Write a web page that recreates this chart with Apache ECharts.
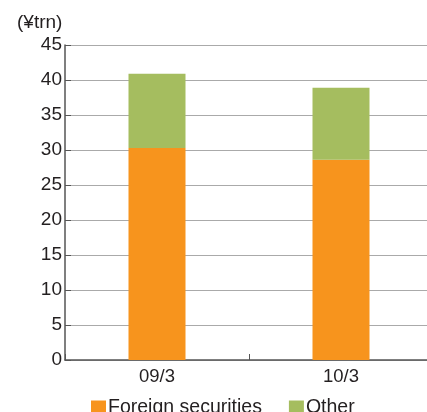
<!DOCTYPE html>
<html>
<head>
<meta charset="utf-8">
<script src="https://cdn.jsdelivr.net/npm/echarts@6/dist/echarts.min.js"></script>
<style>html,body{margin:0;padding:0;background:#fff;overflow:hidden}#c{width:433px;height:412px}</style>
</head>
<body>
<div id="c"></div>
<script>
var categories = ['09/3', '10/3'];
var foreignSecurities = [30.3, 28.6];
var other = [10.6, 10.3];
var seriesNames = ['Foreign securities', 'Other'];
var yTicks = { min: 0, max: 45, interval: 5 };
var unitLabel = '(¥trn)';

var font = '"Liberation Sans", Arial, sans-serif';
var txt = '#231f20';
var chart = echarts.init(document.getElementById('c'));
chart.setOption({
  animation: false,
  textStyle: { fontFamily: font },
  graphic: [{
    type: 'text', left: 17, top: 13,
    style: { text: unitLabel, font: '19px ' + font, fill: txt }
  }],
  grid: { left: 65, top: 45, width: 368, bottom: 52, containLabel: false },
  legend: {
    data: seriesNames,
    left: 91, top: 398, padding: 0,
    itemWidth: 15, itemHeight: 15, itemGap: 27,
    icon: 'rect',
    textStyle: { fontSize: 19.5, color: txt, fontFamily: font, padding: [0, 0, 0, -3] }
  },
  xAxis: {
    type: 'category',
    data: categories,
    axisLine: { lineStyle: { color: '#555', width: 1.5 } },
    axisTick: { show: true, inside: true, length: 6, lineStyle: { color: '#555' }, alignWithLabel: false },
    axisLabel: { fontSize: 18.5, color: txt, margin: 7, fontFamily: font }
  },
  yAxis: {
    type: 'value',
    min: yTicks.min, max: yTicks.max, interval: yTicks.interval,
    axisLine: { show: true, lineStyle: { color: '#555', width: 1.5 } },
    axisTick: { show: true, inside: true, length: 6, lineStyle: { color: '#555' } },
    axisLabel: { fontSize: 19, color: txt, margin: 3, fontFamily: font },
    splitLine: { lineStyle: { color: '#aaa', width: 1.2 } }
  },
  series: [
    { name: seriesNames[0], type: 'bar', stack: 'a', data: foreignSecurities, barWidth: 57, itemStyle: { color: '#f7941d' } },
    { name: seriesNames[1], type: 'bar', stack: 'a', data: other, barWidth: 57, itemStyle: { color: '#a5bd5f' } }
  ]
});
</script>
</body>
</html>
